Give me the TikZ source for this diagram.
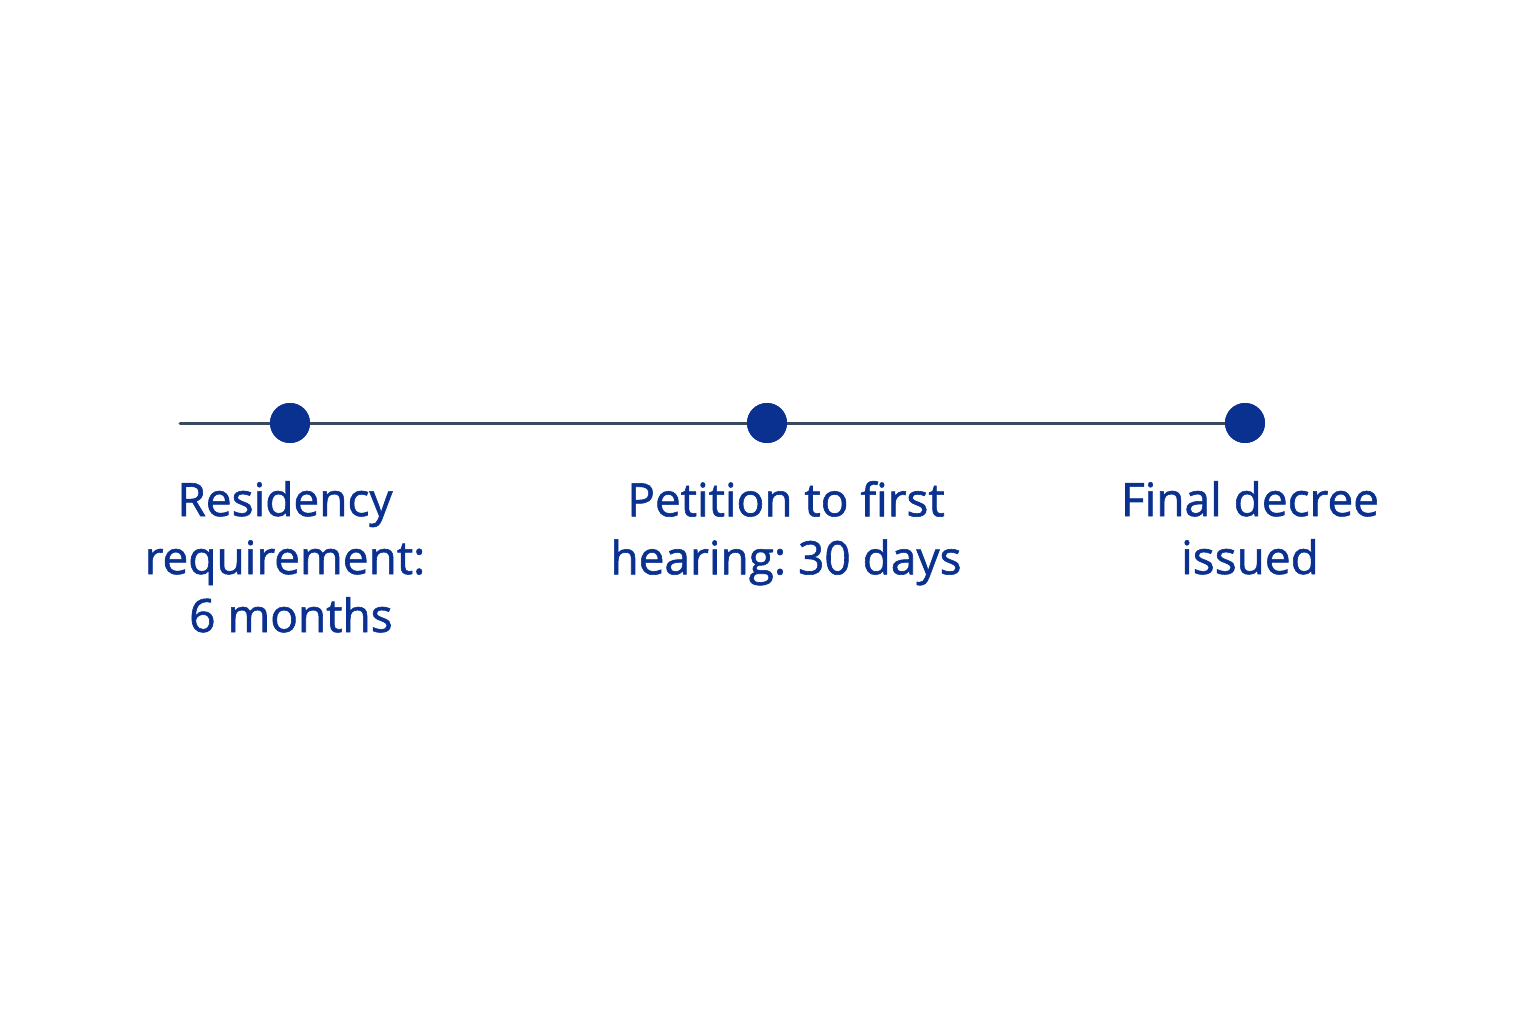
\documentclass[tikz,border=0pt]{standalone}
\usepackage{fontspec}
\setmainfont{Open Sans}[BoldFont=Open Sans,BoldFeatures={FakeBold=1.3}]
\frenchspacing
\definecolor{dotblue}{HTML}{0A3190}
\definecolor{linegray}{HTML}{3A4A5E}
\begin{document}
\begin{tikzpicture}[x=0.5pt,y=-0.5pt,
  dot/.style={circle,fill=dotblue,minimum size=20pt,inner sep=0pt},
  lbl/.style={anchor=north,align=center,text=dotblue,font=\fontsize{23}{29}\selectfont\bfseries}]
\useasboundingbox (0,0) rectangle (1536,1024);
\coordinate (s) at (180,423);
\node[dot] (d1) at (290,423) {};
\node[dot] (d2) at (767,423) {};
\node[dot] (d3) at (1245,423) {};
\draw[linegray,line width=1.5pt,line cap=round] (s) -- (d1) -- (d2) -- (d3);
\node[dot] at (290,423) {};
\node[dot] at (767,423) {};
\node[dot] at (1245,423) {};
\node[lbl] (l1) at (285,474) {Residency\\requirement:\\\ 6 months};
\node[lbl] (l2) at (786,474) {Petition to first\\hearing: 30 days};
\node[lbl] (l3) at (1250,474) {Final decree\\issued};
\end{tikzpicture}
\end{document}
